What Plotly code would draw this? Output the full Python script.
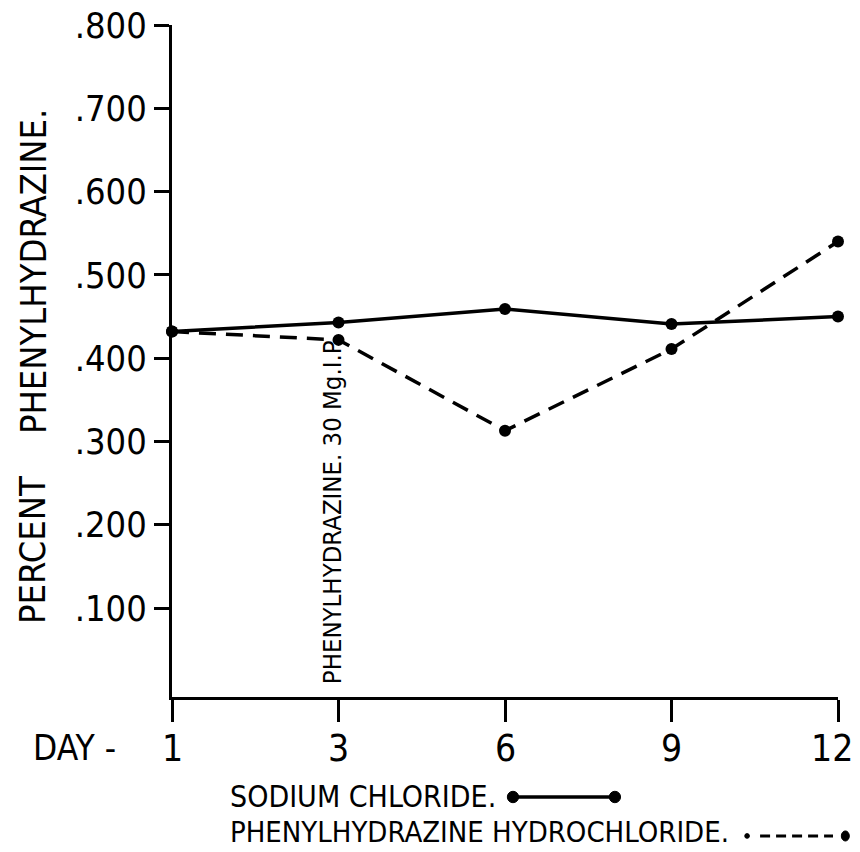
import plotly.graph_objects as go

days = ["1", "3", "6", "9", "12"]
sodium_chloride = [0.432, 0.443, 0.459, 0.441, 0.450]
phenylhydrazine_hcl = [0.432, 0.422, 0.313, 0.411, 0.540]
y_tick_vals = [0.1, 0.2, 0.3, 0.4, 0.5, 0.6, 0.7, 0.8]
y_tick_text = [".100", ".200", ".300", ".400", ".500", ".600", ".700", ".800"]

FONT = "DejaVu Sans Condensed, DejaVu Sans, sans-serif"
BLACK = "#000000"

fig = go.Figure()
fig.add_trace(go.Scatter(
    x=days, y=sodium_chloride, mode="lines+markers", name="SODIUM CHLORIDE.",
    line=dict(color=BLACK, width=3.5), marker=dict(color=BLACK, size=12),
    cliponaxis=False, showlegend=False))
fig.add_trace(go.Scatter(
    x=days, y=phenylhydrazine_hcl, mode="lines+markers", name="PHENYLHYDRAZINE HYDROCHLORIDE.",
    line=dict(color=BLACK, width=3.5, dash="17px,10px"), marker=dict(color=BLACK, size=12),
    cliponaxis=False, showlegend=False))

fig.update_layout(
    width=852, height=834,
    margin=dict(l=164, r=22, t=17, b=145, autoexpand=False),
    paper_bgcolor="white", plot_bgcolor="white",
    font=dict(family=FONT, color=BLACK),
    xaxis=dict(type="category", range=[0, 4], showgrid=False, zeroline=False,
               showline=True, linecolor=BLACK, linewidth=3, automargin=False,
               ticks="outside", ticklen=22, tickwidth=3, tickcolor=BLACK,
               showticklabels=False),
    yaxis=dict(range=[-0.0067, 0.8], showgrid=False, zeroline=False,
               showline=True, linecolor=BLACK, linewidth=3, automargin=False,
               tickvals=y_tick_vals, ticktext=y_tick_text,
               ticks="outside", ticklen=15, tickwidth=3, tickcolor=BLACK,
               tickfont=dict(size=36, family=FONT), ticklabeloverflow="allow"),
)

# x tick labels (days), placed at the category index positions
for i, d in enumerate(days):
    fig.add_annotation(text=d, x=i, y=-0.0759, xref="x", yref="paper", showarrow=False,
                       xanchor="center", yanchor="middle", font=dict(size=37),
                       xshift=(-6 if i == len(days) - 1 else 0))

ann = [
    dict(text="PERCENT", x=-0.2087, y=0.2188, textangle=-90, font=dict(size=36)),
    dict(text="PHENYLHYDRAZINE.", x=-0.2087, y=0.6324, textangle=-90, font=dict(size=36)),
    dict(text="DAY -", x=-0.147, y=-0.0759, font=dict(size=35)),
    dict(text="SODIUM CHLORIDE.", x=0.0846, y=-0.1488, xanchor="left", font=dict(size=30)),
    dict(text="PHENYLHYDRAZINE HYDROCHLORIDE.", x=0.0846, y=-0.2009, xanchor="left", font=dict(size=29)),
]
for a in ann:
    a.update(xref="paper", yref="paper", showarrow=False)
    a.setdefault("xanchor", "center")
    a["yanchor"] = "middle"
    fig.add_annotation(**a)

fig.add_annotation(text="PHENYLHYDRAZINE. 30 Mg.I.P.", x=1, y=0.217, xref="x", yref="y",
                   textangle=-90, showarrow=False, xshift=-7,
                   font=dict(size=25.5), xanchor="center", yanchor="middle")

# legend samples
ys = -0.1488
fig.add_shape(type="line", xref="paper", yref="paper", x0=0.512, x1=0.665, y0=ys, y1=ys,
              line=dict(color=BLACK, width=3.5))
for xp in (0.512, 0.665):
    fig.add_shape(type="circle", xref="paper", yref="paper", x0=xp - 0.0085, x1=xp + 0.0085,
                  y0=ys - 0.0085, y1=ys + 0.0085, fillcolor=BLACK, line=dict(color=BLACK, width=1))
yd = -0.2068
fig.add_shape(type="line", xref="paper", yref="paper", x0=0.883, x1=0.9925, y0=yd, y1=yd,
              line=dict(color=BLACK, width=3, dash="10px,6px"))
fig.add_shape(type="circle", xref="paper", yref="paper", x0=1.005, x1=1.017,
              y0=yd - 0.0075, y1=yd + 0.0075, fillcolor=BLACK, line=dict(color=BLACK, width=1))
fig.add_shape(type="circle", xref="paper", yref="paper", x0=0.860, x1=0.867,
              y0=yd - 0.0035, y1=yd + 0.0035, fillcolor=BLACK, line=dict(color=BLACK, width=1))

fig.write_html("out.html")
